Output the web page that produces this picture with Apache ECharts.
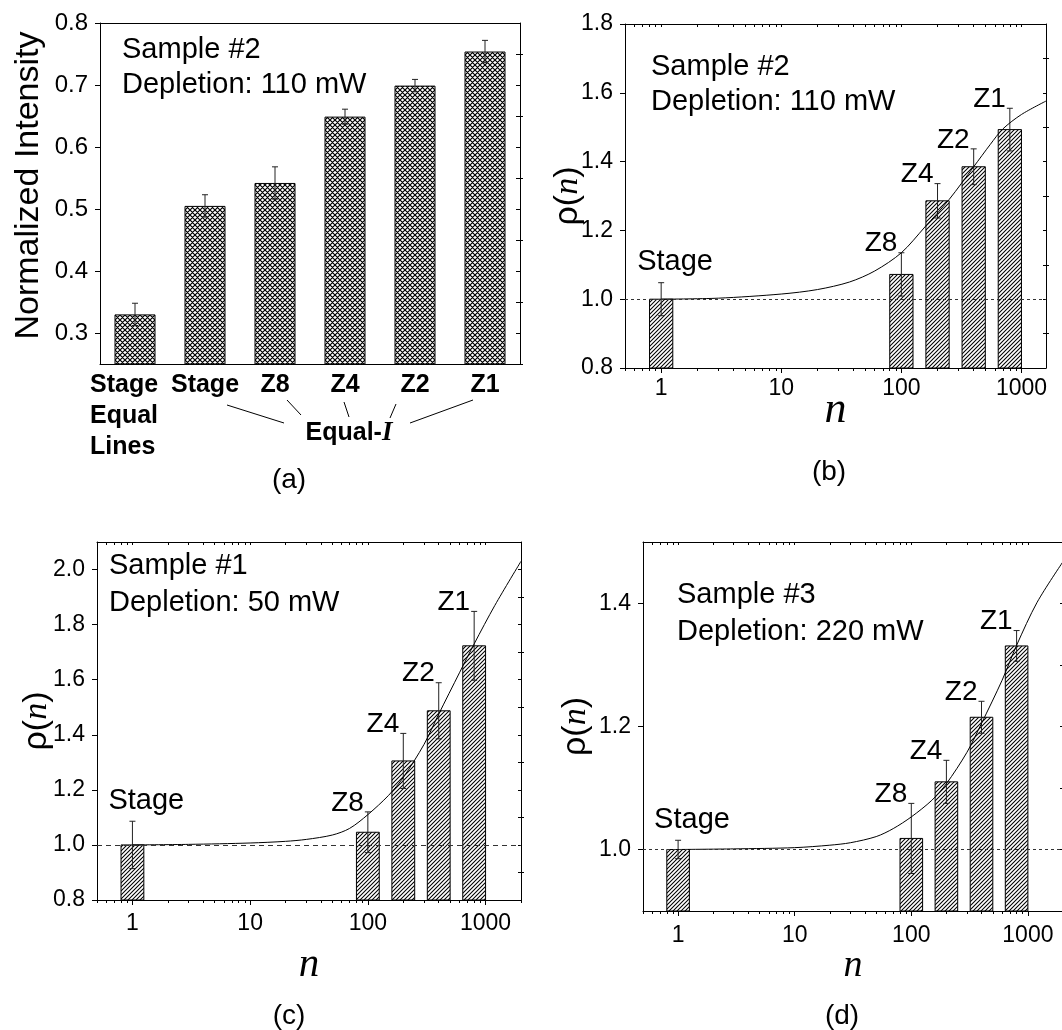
<!DOCTYPE html>
<html>
<head>
<meta charset="utf-8">
<script src="https://cdn.jsdelivr.net/npm/echarts@6/dist/echarts.min.js"></script>
<style>
  html, body { margin: 0; background: #fff; }
  #chart { width: 1062px; height: 1030px; }
</style>
</head>
<body>
<div id="chart"></div>
<script>
const fontSans = '"Liberation Sans", Arial, sans-serif';
const fontSerif = '"Liberation Serif", "Times New Roman", serif';

// (a) normalized intensity, sample #2
const catA = ['Stage\nEqual\nLines', 'Stage', 'Z8', 'Z4', 'Z2', 'Z1'];
const valA = [0.330, 0.505, 0.542, 0.649, 0.699, 0.754];
const errA = [0.018, 0.018, 0.026, 0.012, 0.010, 0.018];
const yTicksA = [0.3, 0.4, 0.5, 0.6, 0.7, 0.8];
const yMinorA = [0.25, 0.35, 0.45, 0.55, 0.65, 0.75];

// (b)-(d) rho(n)
const barNames = ['Stage', 'Z8', 'Z4', 'Z2', 'Z1'];
const barN = [1, 100, 200, 400, 800];
const rhoB = [1.000, 1.072, 1.286, 1.385, 1.493];
const errB = [0.048, 0.063, 0.050, 0.052, 0.062];
const rhoC = [1.000, 1.046, 1.305, 1.487, 1.723];
const errC = [0.086, 0.074, 0.100, 0.102, 0.125];
const rhoD = [1.000, 1.018, 1.110, 1.215, 1.331];
const errD = [0.015, 0.057, 0.035, 0.026, 0.025];

// fitted curves
const fitNB = [1, 3, 10, 20, 37, 60, 100, 157, 250, 400, 550, 700, 1000, 1600];
const fitB  = [1.000, 1.003, 1.015, 1.028, 1.050, 1.082, 1.135, 1.210, 1.290, 1.385, 1.450, 1.495, 1.537, 1.576];
const fitNC = [1, 3, 10, 20, 30, 50, 70, 100, 150, 200, 300, 400, 600, 800, 1200, 2000];
const fitC  = [1.000, 1.002, 1.007, 1.013, 1.020, 1.036, 1.060, 1.110, 1.180, 1.245, 1.365, 1.475, 1.625, 1.730, 1.870, 2.030];
const fitND = [1, 3, 10, 20, 30, 50, 70, 100, 150, 200, 300, 400, 600, 800, 1200, 2000];
const fitD  = [1.000, 1.001, 1.003, 1.007, 1.011, 1.021, 1.034, 1.053, 1.080, 1.107, 1.158, 1.205, 1.275, 1.332, 1.402, 1.468];

const xTicks = [1, 10, 100, 1000];
const yTicksB = [0.8, 1.0, 1.2, 1.4, 1.6, 1.8];
const yMinorB = [0.9, 1.1, 1.3, 1.5, 1.7];
const yTicksC = [0.8, 1.0, 1.2, 1.4, 1.6, 1.8, 2.0];
const yMinorC = [0.9, 1.1, 1.3, 1.5, 1.7, 1.9];
const yTicksD = [1.0, 1.2, 1.4];
const yMinorD = [0.9, 1.1, 1.3, 1.5];

// hatch patterns
function hatch(size, cross, lw) {
  const c = document.createElement('canvas');
  c.width = c.height = size;
  const g = c.getContext('2d');
  g.fillStyle = '#fff';
  g.fillRect(0, 0, size, size);
  g.strokeStyle = '#000';
  g.lineWidth = lw;
  g.beginPath();
  g.moveTo(-1, size + 1); g.lineTo(size + 1, -1);
  g.moveTo(-1, 1); g.lineTo(1, -1);
  g.moveTo(size - 1, size + 1); g.lineTo(size + 1, size - 1);
  if (cross) {
    g.moveTo(-1, -1); g.lineTo(size + 1, size + 1);
    g.moveTo(-1, size - 1); g.lineTo(1, size + 1);
    g.moveTo(size - 1, -1); g.lineTo(size + 1, 1);
  }
  g.stroke();
  return c;
}
const diagFill = { image: hatch(4, false, 1.05), repeat: 'repeat' };
const crossFill = { image: hatch(5, true, 1.2), repeat: 'repeat' };

function minorLog(min, max) {
  const out = [];
  [0.1, 1, 10, 100, 1000].forEach(d => {
    for (let m = 2; m <= 9; m++) {
      const v = +(m * d).toPrecision(3);
      if (v >= min && v <= max) out.push(v);
    }
  });
  return out;
}

const black = { color: '#000', width: 1 };
const xAxes = [], yAxes = [], series = [];

// ---------- panel (a) ----------
xAxes.push({
  gridIndex: 0, type: 'category', data: catA, position: 'bottom',
  axisLine: { show: true, onZero: false, lineStyle: black },
  axisTick: { show: false },
  axisLabel: {
    interval: 0, margin: 6,
    formatter: (v, i) => i === 0 ? v.split('\n').map(s => '{l|' + s + '}').join('\n') : '{c|' + v + '}',
    rich: {
      l: { fontSize: 25, fontWeight: 'bold', fontFamily: fontSans, color: '#000', width: 90, align: 'left', lineHeight: 31 },
      c: { fontSize: 25, fontWeight: 'bold', fontFamily: fontSans, color: '#000', lineHeight: 31 }
    }
  }
});
xAxes.push({
  gridIndex: 0, type: 'category', data: catA, position: 'top',
  axisLine: { show: true, onZero: false, lineStyle: black },
  axisTick: { show: false }, axisLabel: { show: false }
});
yAxes.push({
  gridIndex: 0, type: 'value', min: 0.25, max: 0.8,
  axisLine: { show: true, onZero: false, lineStyle: black },
  axisTick: { show: true, customValues: yTicksA, length: 5, lineStyle: black },
  axisLabel: { customValues: yTicksA, margin: 12, fontSize: 24, color: '#000', formatter: v => v.toFixed(1) },
  splitLine: { show: false },
  name: 'Normalized Intensity', nameLocation: 'middle', nameGap: 54, nameMoveOverlap: false,
  nameTextStyle: { fontSize: 34, color: '#000', fontFamily: fontSans, padding: [0, 0, 0, 16] }
});
yAxes.push({
  gridIndex: 0, type: 'value', min: 0.25, max: 0.8,
  axisLine: { show: false },
  axisTick: { show: true, customValues: yMinorA, length: 3, lineStyle: black },
  axisLabel: { show: false }, splitLine: { show: false }
});
yAxes.push({
  gridIndex: 0, type: 'value', min: 0.25, max: 0.8, position: 'right',
  axisLine: { show: true, onZero: false, lineStyle: black },
  axisTick: { show: true, inside: true, customValues: yTicksA.concat(yMinorA), length: 4, lineStyle: black },
  axisLabel: { show: false }, splitLine: { show: false }
});
series.push({
  type: 'bar', xAxisIndex: 0, yAxisIndex: 0, data: valA, barWidth: 41, z: 2,
  itemStyle: { color: crossFill, borderColor: '#000', borderWidth: 1 }
});
series.push({
  type: 'custom', xAxisIndex: 0, yAxisIndex: 0, z: 3,
  data: valA.map((v, i) => [i, v, errA[i]]),
  renderItem: (params, api) => {
    const i = api.value(0), v = api.value(1), e = api.value(2);
    const t = api.coord([i, v + e]), b = api.coord([i, v - e]);
    const st = { stroke: '#222', lineWidth: 1 };
    return { type: 'group', children: [
      { type: 'line', shape: { x1: t[0], y1: t[1], x2: b[0], y2: b[1] }, style: st },
      { type: 'line', shape: { x1: t[0] - 3, y1: t[1], x2: t[0] + 3, y2: t[1] }, style: st },
      { type: 'line', shape: { x1: b[0] - 3, y1: b[1], x2: b[0] + 3, y2: b[1] }, style: st }
    ] };
  }
});

// ---------- panels (b), (c), (d) ----------
const panels = [
  { rho: rhoB, err: errB, fitN: fitNB, fit: fitB, xMax: 1600, yMin: 0.8, yMax: 1.8, yTicks: yTicksB, yMinor: yMinorB,
    dash: [3, 3], gapY: 40, gapX: 20, nSize: 44, xMargin: 9 },
  { rho: rhoC, err: errC, fitN: fitNC, fit: fitC, xMax: 2000, yMin: 0.8, yMax: 2.1, yTicks: yTicksC, yMinor: yMinorC,
    dash: [5, 4], gapY: 43, gapX: 45, nSize: 41, xMargin: 12 },
  { rho: rhoD, err: errD, fitN: fitND, fit: fitD, xMax: 2000, yMin: 0.9, yMax: 1.5, yTicks: yTicksD, yMinor: yMinorD,
    dash: [3, 3], gapY: 50, gapX: 36, nSize: 38, xMargin: 13 }
];

panels.forEach((p, k) => {
  const g = k + 1;
  const xi = xAxes.length, yi = yAxes.length;
  const xMinor = minorLog(0.5, p.xMax);
  xAxes.push({
    gridIndex: g, type: 'log', logBase: 10, min: 0.5, max: p.xMax, position: 'bottom',
    axisLine: { show: true, onZero: false, lineStyle: black },
    axisTick: { show: true, customValues: xTicks, length: 5, lineStyle: black },
    axisLabel: { customValues: xTicks, margin: p.xMargin, fontSize: 23, color: '#000', formatter: v => String(Math.round(v)) },
    splitLine: { show: false },
    name: '{n|n}', nameLocation: 'middle', nameGap: p.gapX, nameMoveOverlap: false,
    nameTextStyle: { rich: { n: { fontSize: p.nSize, fontStyle: 'italic', fontFamily: fontSerif, color: '#000' } } }
  });
  xAxes.push({
    gridIndex: g, type: 'log', logBase: 10, min: 0.5, max: p.xMax, position: 'bottom',
    axisLine: { show: false },
    axisTick: { show: true, customValues: xMinor, length: 3, lineStyle: black },
    axisLabel: { show: false }, splitLine: { show: false }
  });
  xAxes.push({
    gridIndex: g, type: 'log', logBase: 10, min: 0.5, max: p.xMax, position: 'top',
    axisLine: { show: true, onZero: false, lineStyle: black },
    axisTick: { show: true, inside: true, customValues: xTicks.concat(xMinor), length: 3, lineStyle: black },
    axisLabel: { show: false }, splitLine: { show: false }
  });
  yAxes.push({
    gridIndex: g, type: 'value', min: p.yMin, max: p.yMax,
    axisLine: { show: true, onZero: false, lineStyle: black },
    axisTick: { show: true, customValues: p.yTicks, length: 5, lineStyle: black },
    axisLabel: { customValues: p.yTicks, margin: 12, fontSize: 23, color: '#000', formatter: v => v.toFixed(1) },
    splitLine: { show: false },
    name: '{r|ρ(}{n|n}{r|)}', nameLocation: 'middle', nameGap: p.gapY, nameMoveOverlap: false,
    nameTextStyle: { rich: {
      r: { fontSize: 34, fontFamily: fontSans, color: '#000' },
      n: { fontSize: 34, fontStyle: 'italic', fontFamily: fontSerif, color: '#000' }
    } }
  });
  yAxes.push({
    gridIndex: g, type: 'value', min: p.yMin, max: p.yMax,
    axisLine: { show: false },
    axisTick: { show: true, customValues: p.yMinor, length: 3, lineStyle: black },
    axisLabel: { show: false }, splitLine: { show: false }
  });
  yAxes.push({
    gridIndex: g, type: 'value', min: p.yMin, max: p.yMax, position: 'right',
    axisLine: { show: true, onZero: false, lineStyle: black },
    axisTick: { show: true, inside: true, customValues: p.yTicks.concat(p.yMinor), length: 3, lineStyle: black },
    axisLabel: { show: false }, splitLine: { show: false }
  });

  series.push({
    type: 'custom', xAxisIndex: xi, yAxisIndex: yi, z: 2,
    data: barN.map((n, i) => [n, p.rho[i], p.err[i], i]),
    renderItem: (params, api) => {
      const n = api.value(0), v = api.value(1), e = api.value(2), i = api.value(3);
      const tl = api.coord([n * 0.8, v]);
      const br = api.coord([n * 1.25, p.yMin]);
      const t = api.coord([n, v + e]), b = api.coord([n, v - e]);
      const st = { stroke: '#222', lineWidth: 1 };
      const stage = i === 0;
      return { type: 'group', children: [
        { type: 'rect', shape: { x: tl[0], y: tl[1], width: br[0] - tl[0], height: br[1] - tl[1] },
          style: { fill: diagFill, stroke: '#000', lineWidth: 1 } },
        { type: 'line', shape: { x1: t[0], y1: t[1], x2: b[0], y2: b[1] }, style: st },
        { type: 'line', shape: { x1: t[0] - 3, y1: t[1], x2: t[0] + 3, y2: t[1] }, style: st },
        { type: 'line', shape: { x1: b[0] - 3, y1: b[1], x2: b[0] + 3, y2: b[1] }, style: st },
        { type: 'text', x: stage ? t[0] - 24 : t[0] - 4, y: stage ? t[1] - 6 : t[1] + 5,
          style: { text: barNames[i], fill: '#000', fontFamily: fontSans, fontSize: stage ? 29 : 28,
            align: stage ? 'left' : 'right', verticalAlign: 'bottom' } }
      ] };
    }
  });
  series.push({
    type: 'line', xAxisIndex: xi, yAxisIndex: yi, z: 4,
    data: p.fitN.map((n, i) => [n, p.fit[i]]),
    showSymbol: false, symbol: 'none', smooth: 0.3,
    lineStyle: { color: '#000', width: 1 },
    markLine: {
      silent: true, symbol: ['none', 'none'], label: { show: false }, animation: false,
      lineStyle: { color: '#333', width: 1, type: p.dash },
      data: [{ yAxis: 1 }]
    }
  });
});

function txt(x, y, text, size) {
  return { type: 'text', x: x, y: y,
    style: { text: text, fill: '#000', fontFamily: fontSans, fontSize: size, verticalAlign: 'middle', align: 'left' } };
}
function ctxt(x, y, text) {
  return { type: 'text', x: x, y: y,
    style: { text: text, fill: '#000', fontFamily: fontSans, fontSize: 28, align: 'center', verticalAlign: 'middle' } };
}
function seg(x1, y1, x2, y2) {
  return { type: 'line', shape: { x1: x1, y1: y1, x2: x2, y2: y2 }, style: { stroke: '#000', lineWidth: 1 } };
}

const graphic = [
  txt(122, 50, 'Sample #2', 29), txt(122, 85, 'Depletion: 110 mW', 29),
  txt(651, 67, 'Sample #2', 29), txt(651, 102, 'Depletion: 110 mW', 29),
  txt(109, 566, 'Sample #1', 29), txt(109, 603, 'Depletion: 50 mW', 29),
  txt(677, 595, 'Sample #3', 29), txt(677, 632, 'Depletion: 220 mW', 29),
  ctxt(289, 480, '(a)'), ctxt(829, 472, '(b)'), ctxt(289, 1016, '(c)'), ctxt(842, 1016, '(d)'),
  { type: 'text', x: 349, y: 433, style: {
    text: '{b|Equal-}{i|I}', align: 'center', verticalAlign: 'middle',
    rich: {
      b: { fontSize: 25, fontWeight: 'bold', fontFamily: fontSans, fill: '#000' },
      i: { fontSize: 27, fontWeight: 'bold', fontStyle: 'italic', fontFamily: fontSerif, fill: '#000' }
    } } },
  seg(227, 405, 284, 423), seg(287, 400, 301, 415), seg(344, 402, 349, 417),
  seg(396, 404, 390, 418), seg(473, 400, 410, 423)
];

const chart = echarts.init(document.getElementById('chart'), null, { renderer: 'canvas' });
chart.setOption({
  animation: false,
  backgroundColor: '#fff',
  textStyle: { fontFamily: fontSans, color: '#000' },
  grid: [
    { left: 100, top: 23, width: 420, height: 341, containLabel: false, outerBoundsMode: 'none' },
    { left: 625, top: 24, width: 421, height: 344, containLabel: false, outerBoundsMode: 'none' },
    { left: 97, top: 542, width: 424, height: 358, containLabel: false, outerBoundsMode: 'none' },
    { left: 643, top: 542, width: 420, height: 369, containLabel: false, outerBoundsMode: 'none' }
  ],
  xAxis: xAxes,
  yAxis: yAxes,
  series: series,
  graphic: graphic
});
</script>
</body>
</html>
